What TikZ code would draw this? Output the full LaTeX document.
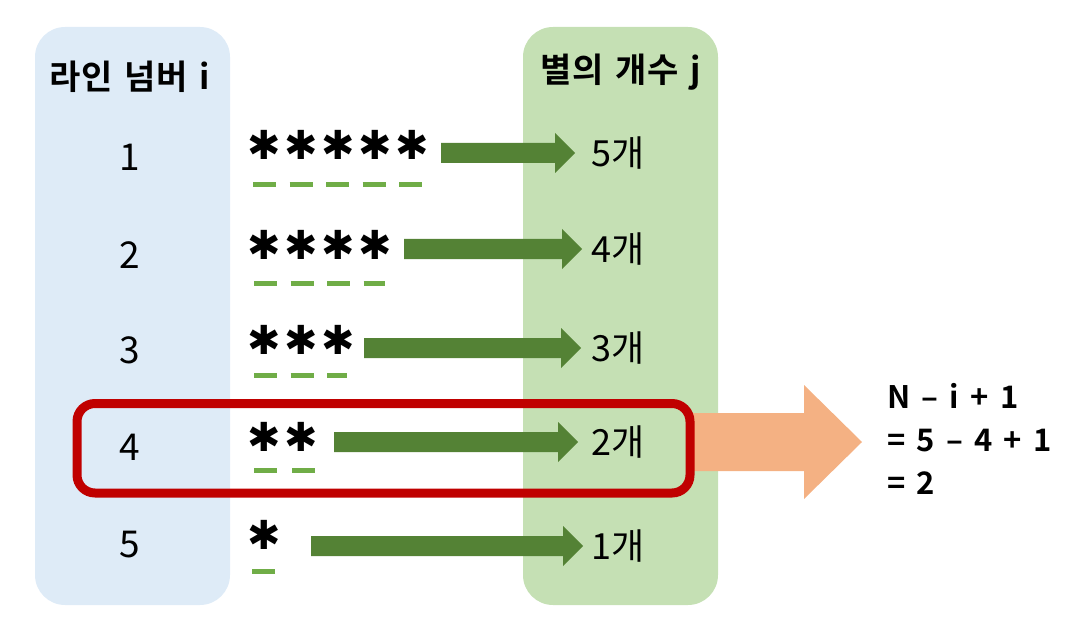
\documentclass[tikz,border=0pt]{standalone}
\usepackage{fontspec}
\setmainfont{Noto Sans CJK KR}
\newfontfamily\kr{Noto Sans CJK KR}
\newfontfamily\krb{Noto Sans CJK KR Bold}
\newfontfamily\krbw[WordSpace=1.6]{Noto Sans CJK KR Bold}
\newfontfamily\starfont{DejaVu Sans Bold}
\definecolor{boxblue}{HTML}{DEEBF7}
\definecolor{boxgreen}{HTML}{C5E0B4}
\definecolor{arrgreen}{HTML}{548235}
\definecolor{dashgreen}{HTML}{70AD47}
\definecolor{hired}{HTML}{C00000}
\definecolor{orng}{HTML}{F4B183}
\newcommand{\sk}{\kern 3.5pt}
\tikzset{
  colbox/.style={rounded corners=30pt},
  hdr/.style={font=\krb\fontsize{34}{40}\selectfont, inner sep=0pt},
  num/.style={font=\kr\fontsize{37}{40}\selectfont, inner sep=0pt},
  cnt/.style={font=\kr\fontsize{36}{40}\selectfont, inner sep=0pt, anchor=west},
  stars/.style={font=\starfont\fontsize{40}{40}\selectfont, inner sep=0pt, anchor=west},
  under/.style={line width=5pt, draw=dashgreen, dash pattern=on 23pt off 13.5pt},
  formula/.style={font=\krbw\fontsize{31}{43}\selectfont, inner sep=0pt, anchor=north west, align=left},
}
\newcommand{\GArrow}[3]{% x1, xtip, y
  \fill[arrgreen] (#1,#3-10) -- ({#2-20},#3-10) -- ({#2-20},#3-20) -- (#2,#3) -- ({#2-20},#3+20) -- ({#2-20},#3+10) -- (#1,#3+10) -- cycle;}
\begin{document}
\begin{tikzpicture}[x=1pt,y=-1pt]
\useasboundingbox (0,0) rectangle (1080,623);
% columns
\fill[boxblue, colbox] (35,27) rectangle (230,605);
\fill[boxgreen, colbox] (523,27) rectangle (718,605);
\node[hdr] (h1) at (130,77) {라인 넘버 i};
\node[hdr] (h2) at (621,72) {별의 개수 j};
% orange arrow
\fill[orng] (688,413) -- (804,413) -- (804,385) -- (862,442) -- (804,499) -- (804,471) -- (688,471) -- cycle;
% rows
\foreach \n/\cn/\yy/\st/\xe/\sy/\ay/\tp in {
  1/5/157/{✱\sk✱\sk✱\sk✱\sk✱}/441/145/153/575,
  2/4/255/{✱\sk✱\sk✱\sk✱}/404/245/249/582,
  3/3/350/{✱\sk✱\sk✱}/364/340/348/581,
  4/2/447/{✱\sk✱}/334/437/442/578,
  5/1/545/{✱}/311/535/546/583}{
  \node[num] (n\n) at (130,\yy) {\n};
  \node[stars] (s\n) at (247,\sy) {\st};
  \GArrow{\xe}{\tp}{\ay}
  \node[cnt] (c\n) at (591,\ay) {{\cn}개};
}
% underline dashes
\draw[under] (253,184.5) -- (423,184.5);
\draw[under] (254,283.5) -- (385,283.5);
\draw[under] (254,375) -- (347,375);
\draw[under, dash pattern=on 23pt off 15pt] (254,470.5) -- (316,470.5);
\draw[under] (252,571.5) -- (275,571.5);
% highlight
\draw[hired, line width=9pt, rounded corners=18pt] (77,403.5) rectangle (690,493);
% formula
\node[formula] (f) at (887,383) {N – i + 1\\= 5 – 4 + 1\\= 2};
\end{tikzpicture}
\end{document}
